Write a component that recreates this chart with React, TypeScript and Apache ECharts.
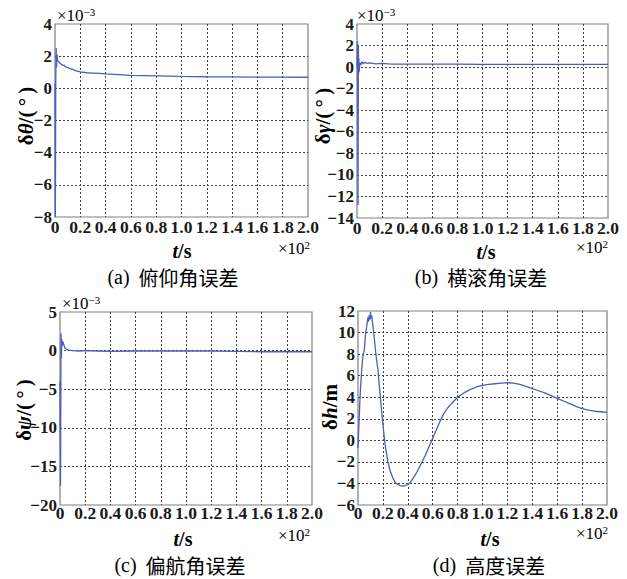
import React, { useEffect, useRef } from 'react';
import * as echarts from 'echarts';

// (a) pitch angle error, x in ×10² s, y in ×10⁻³ °
const tA = [0, 0.003, 0.006, 0.009, 0.012, 0.016, 0.02, 0.03, 0.04, 0.05, 0.06, 0.07, 0.08, 0.1, 0.12, 0.14, 0.16, 0.2, 0.25, 0.3, 0.35, 0.4, 0.5, 0.6, 0.8, 1.0, 1.2, 1.4, 1.6, 1.8, 2.0];
const vA = [0.3, -8.0, 0.5, 2.5, 1.3, 2.1, 1.75, 1.65, 1.55, 1.5, 1.42, 1.45, 1.35, 1.3, 1.22, 1.18, 1.1, 1.02, 0.97, 0.95, 0.93, 0.9, 0.85, 0.8, 0.78, 0.74, 0.72, 0.71, 0.7, 0.7, 0.69];

// (b) roll angle error
const tB = [0, 0.004, 0.008, 0.011, 0.013, 0.015, 0.018, 0.022, 0.03, 0.04, 0.05, 0.06, 0.08, 0.1, 0.15, 0.2, 0.25, 0.3, 0.5, 0.8, 1.0, 1.5, 2.0];
const vB = [0, 2.4, -12.8, 2.0, -0.6, 0.8, -0.4, 0.4, 0.2, 0.5, 0.3, 0.45, 0.35, 0.4, 0.3, 0.35, 0.3, 0.28, 0.27, 0.27, 0.26, 0.25, 0.25];

// (c) yaw angle error
const tC = [0, 0.004, 0.008, 0.011, 0.014, 0.018, 0.022, 0.03, 0.04, 0.05, 0.07, 0.1, 0.15, 0.2, 0.3, 0.4, 0.6, 0.8, 1.0, 1.2, 1.4, 1.6, 1.8, 2.0];
const vC = [-4, -17.5, 2.2, -1.0, 1.5, 0.6, 1.2, 0.8, 0.3, 0.2, 0.05, 0.0, -0.05, 0.0, -0.05, -0.1, -0.05, -0.05, -0.05, -0.05, -0.1, -0.15, -0.15, -0.15];

// (d) altitude error, m
const tD = [0, 0.005, 0.01, 0.015, 0.02, 0.03, 0.04, 0.05, 0.06, 0.07, 0.08, 0.085, 0.09, 0.095, 0.1, 0.105, 0.11, 0.12, 0.13, 0.14, 0.15, 0.16, 0.17, 0.18, 0.19, 0.2, 0.21, 0.22, 0.24, 0.26, 0.28, 0.3, 0.32, 0.34, 0.36, 0.38, 0.4, 0.42, 0.45, 0.48, 0.51, 0.54, 0.57, 0.6, 0.63, 0.66, 0.69, 0.72, 0.75, 0.8, 0.85, 0.9, 0.95, 1.0, 1.05, 1.1, 1.15, 1.2, 1.25, 1.3, 1.35, 1.4, 1.45, 1.5, 1.55, 1.6, 1.65, 1.7, 1.75, 1.8, 1.85, 1.9, 1.95, 2.0];
const vD = [-0.7, 0.8, 2.2, 3.6, 4.8, 6.6, 7.9, 8.3, 9.8, 10.6, 11.4, 11.0, 11.6, 11.2, 11.9, 11.3, 11.6, 10.6, 9.6, 8.4, 7.4, 6.6, 5.2, 4.0, 2.7, 1.5, 0.4, -0.6, -2.0, -2.9, -3.5, -3.9, -4.1, -4.2, -4.25, -4.2, -4.1, -3.9, -3.4, -2.8, -2.1, -1.4, -0.6, 0.2, 1.0, 1.8, 2.5, 3.0, 3.4, 4.0, 4.4, 4.7, 4.95, 5.1, 5.2, 5.25, 5.3, 5.35, 5.3, 5.2, 5.0, 4.8, 4.6, 4.4, 4.15, 3.9, 3.65, 3.4, 3.15, 2.95, 2.8, 2.7, 2.65, 2.6];

const yRanges = [
  { min: -8, max: 4, interval: 2 },
  { min: -14, max: 4, interval: 2 },
  { min: -20, max: 5, interval: 5 },
  { min: -6, max: 12, interval: 2 },
];

const captions = ['(a)  俯仰角误差', '(b)  横滚角误差', '(c)  偏航角误差', '(d)  高度误差'];
const yNames = [
  ['δ', 'θ', '/(\u2009°\u2009)'],
  ['δ', 'γ', '/(\u2009°\u2009)'],
  ['δ', 'ψ', '/(\u2009°\u2009)'],
  ['δ', 'h', '/m'],
];

const SERIF = 'Liberation Serif';
const CJK = 'Noto Sans CJK SC';
const TXT = '#1a1a1a';

const layout = [
  { grid: { left: 55, top: 24, width: 253, height: 193 }, tickY: 229, nameX: 182, nameY: 251, mulX: 278, mulY: 248, capX: 173, capY: 277, yNameX: 26, yNameY: 116, expX: 57, expY: 15 },
  { grid: { left: 357, top: 24, width: 251, height: 194 }, tickY: 230, nameX: 486, nameY: 252, mulX: 576, mulY: 247, capX: 481, capY: 277, yNameX: 323, yNameY: 116, expX: 357, expY: 15 },
  { grid: { left: 60, top: 312, width: 252, height: 193 }, tickY: 515, nameX: 183, nameY: 539, mulX: 278, mulY: 535, capX: 180, capY: 565, yNameX: 24, yNameY: 410, expX: 62, expY: 303 },
  { grid: { left: 358, top: 311, width: 249, height: 194 }, tickY: 515, nameX: 490, nameY: 539, mulX: 576, mulY: 533, capX: 489, capY: 565, yNameX: 330, yNameY: 407, expX: -1, expY: 0 },
];

const seriesData = [
  [tA, vA],
  [tB, vB],
  [tC, vC],
  [tD, vD],
];

function powerText(x: number, y: number, exp: string) {
  return {
    type: 'text', x, y, silent: true,
    style: {
      text: '{b|×10}{s|' + exp + '}',
      align: 'left', verticalAlign: 'middle',
      rich: {
        b: { fontFamily: SERIF, fontSize: 17, color: TXT, lineHeight: 18, verticalAlign: 'bottom' },
        s: { fontFamily: SERIF, fontSize: 11, color: TXT, lineHeight: 12, verticalAlign: 'top' },
      },
    },
  };
}

export default function App() {
  const ref = useRef<HTMLDivElement>(null);
  useEffect(() => {
    document.body.style.margin = '0';
    const chart = echarts.init(ref.current!, null, { renderer: 'svg' });
    const grids: any[] = [];
    const xAxes: any[] = [];
    const yAxes: any[] = [];
    const series: any[] = [];
    const graphics: any[] = [];
    layout.forEach((L, i) => {
      grids.push({ ...L.grid, show: true, borderColor: '#808080', borderWidth: 1.2, backgroundColor: '#fff' });
      const split = { show: true, showMinLine: false, showMaxLine: false, lineStyle: { color: '#404040', width: 1, type: [2, 2] } };
      xAxes.push({
        type: 'value', gridIndex: i, min: 0, max: 2, interval: 0.2,
        axisLine: { show: false }, axisTick: { show: false },
        splitLine: split,
        axisLabel: {
          margin: L.tickY - (L.grid.top + L.grid.height) - 11,
          fontFamily: SERIF, fontWeight: 'bold', fontSize: 17.5, color: TXT,
          formatter: (v: number) => (v === 0 ? '0' : v.toFixed(1)),
        },
      });
      const r = yRanges[i];
      yAxes.push({
        type: 'value', gridIndex: i, min: r.min, max: r.max, interval: r.interval,
        axisLine: { show: false }, axisTick: { show: false },
        splitLine: split,
        axisLabel: {
          margin: 3,
          fontFamily: SERIF, fontWeight: 'bold', fontSize: 17, color: TXT,
          formatter: (v: number) => (v < 0 ? '\u2212' + Math.abs(v) : String(v)),
        },
      });
      const [ts, vs] = seriesData[i];
      series.push({
        type: 'line', xAxisIndex: i, yAxisIndex: i, showSymbol: false, symbol: 'none',
        data: ts.map((t, k) => [t, vs[k]]),
        lineStyle: { color: '#4d5cbd', width: 1.3 },
      });
      graphics.push({
        type: 'text', x: L.nameX, y: L.nameY, silent: true,
        style: {
          text: '{i|t}{n|/s}', align: 'center', verticalAlign: 'middle',
          rich: {
            i: { fontFamily: SERIF, fontStyle: 'italic', fontWeight: 'bold', fontSize: 20, color: TXT, lineHeight: 18 },
            n: { fontFamily: SERIF, fontWeight: 'bold', fontSize: 20, color: TXT, lineHeight: 18 },
          },
        },
      });
      graphics.push(powerText(L.mulX, L.mulY, '2'));
      if (L.expX >= 0) graphics.push(powerText(L.expX, L.expY, '\u22123'));
      const cap = captions[i];
      graphics.push({
        type: 'text', x: L.capX, y: L.capY, silent: true,
        style: {
          text: '{a|' + cap.slice(0, 3) + '}{b|' + cap.slice(3) + '}',
          align: 'center', verticalAlign: 'middle',
          rich: {
            a: { fontFamily: SERIF, fontSize: 20, color: TXT, lineHeight: 20 },
            b: { fontFamily: CJK, fontSize: 20, color: TXT, lineHeight: 20 },
          },
        },
      });
      const yn = yNames[i];
      graphics.push({
        type: 'text', x: L.yNameX, y: L.yNameY, rotation: Math.PI / 2, silent: true,
        style: {
          text: '{n|' + yn[0] + '}{i|' + yn[1] + '}{n|' + yn[2] + '}',
          align: 'center', verticalAlign: 'middle',
          rich: {
            n: { fontFamily: SERIF, fontWeight: 'bold', fontSize: 21, color: TXT },
            i: { fontFamily: SERIF, fontStyle: 'italic', fontWeight: 'bold', fontSize: 21, color: TXT },
          },
        },
      });
    });
    chart.setOption({
      animation: false,
      backgroundColor: '#fff',
      grid: grids,
      xAxis: xAxes,
      yAxis: yAxes,
      series,
      graphic: graphics,
    });
    return () => chart.dispose();
  }, []);
  return <div ref={ref} style={{ position: 'absolute', left: 0, top: 0, width: 627, height: 579 }} />;
}
